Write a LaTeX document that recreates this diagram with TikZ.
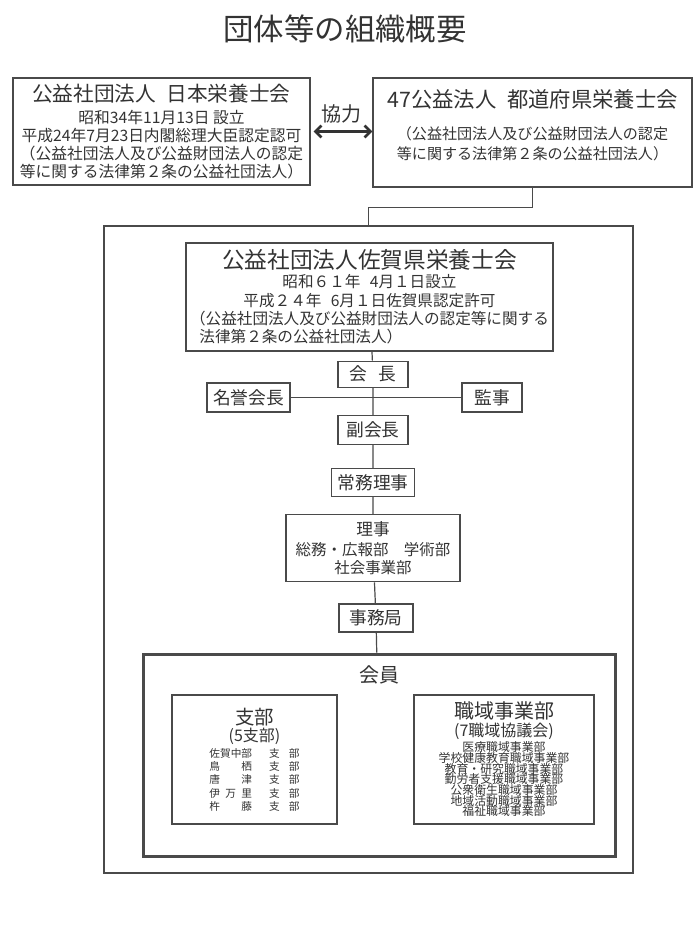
\documentclass[tikz,border=0pt]{standalone}
\usepackage{fontspec}
\setmainfont{Noto Sans CJK JP}
\usetikzlibrary{positioning,arrows.meta}

\newdimen\pxu \pxu=0.75pt
\definecolor{ink}{HTML}{333333}
\definecolor{rule}{HTML}{4A4A4A}
\newcommand\bxfont[2]{\fontsize{#1}{#2}\selectfont\lineskiplimit=-\maxdimen}
\newcommand\shibu[1]{\makebox[4em][s]{#1}\hspace{1.6em}支\hspace{0.85em}部}

\tikzset{
  >=Stealth,
  box/.style={draw=rule, line width=1.2\pxu, text=ink, align=center, inner sep=0pt},
  post/.style={box, minimum height=28\pxu, font=\bxfont{13.3}{16}},
  link/.style={draw=rule, line width=1.2\pxu},
  kyo/.style={{Straight Barb[length=4.5pt,width=9pt]}-{Straight Barb[length=4.5pt,width=9pt]}},
}

\begin{document}
\begin{tikzpicture}[x=0.75pt, y=-0.75pt]
\useasboundingbox (0,0) rectangle (700,933);

% Title
\node[font=\bxfont{22.8}{26}, text=ink] (title) at (345,29) {団体等の組織概要};

% National level
\node[box, minimum width=297\pxu, minimum height=107\pxu, font=\bxfont{11.8}{13.4}] (jda) at (161.5,131.5)
  {{\fontsize{15.5}{18}\selectfont 公益社団法人\hspace{0.5em}日本栄養士会}\\[3pt]
   昭和34年11月13日 設立\\
   平成24年7月23日内閣総理大臣認定認可\\
   （公益社団法人及び公益財団法人の認定\\
   等に関する法律第２条の公益社団法人）};
\node[box, minimum width=319\pxu, minimum height=109\pxu, font=\bxfont{11.3}{15}] (pref) at (532.5,132.5)
  {{\fontsize{16}{19}\selectfont 47公益法人\hspace{0.5em}都道府県栄養士会}\\[9.45pt]
   （公益社団法人及び公益財団法人の認定\\
   等に関する法律第２条の公益社団法人）\\[-3pt]\mbox{}};

\draw[kyo, draw=ink, line width=2.6\pxu, shorten <=3\pxu] (jda.east) -- (jda.east -| pref.west)
  node[midway, above=7\pxu, inner sep=0pt, font=\bxfont{15}{18}, text=ink] (kyoryoku) {協力};

% Saga
\node[draw=rule, line width=1.2\pxu, minimum width=529\pxu, minimum height=647\pxu, inner sep=0pt] (outer) at (368.5,549.5) {};
\draw[link] (pref.south) -- ++(0,20) -| (outer.north);

\node[box, minimum width=367\pxu, minimum height=108\pxu, font=\bxfont{11.7}{13.8}] (saga) at (369.5,297)
  {{\fontsize{17}{20}\selectfont 公益社団法人佐賀県栄養士会}\\[0.5pt]
   昭和６１年\hspace{0.6em}4月１日設立\\
   平成２４年\hspace{0.6em}6月１日佐賀県認定許可\\
   （公益社団法人及び公益財団法人の認定等に関する\\
   \makebox[23em][l]{\hspace{0.6em}法律第２条の公益社団法人）}};

% Officers
\node[post, minimum width=70\pxu, minimum height=26\pxu, below=9\pxu of saga, xshift=3.5\pxu] (kaicho) {会\hspace{0.6em}長};
\node[post, minimum width=70\pxu, minimum height=29\pxu, below=27\pxu of kaicho] (fuku) {副会長};
\node[post, minimum width=83\pxu, below=23\pxu of fuku] (jomu) {常務理事};
\node[box, minimum width=174\pxu, minimum height=67\pxu, below=17\pxu of jomu, font=\bxfont{11.6}{13.8}] (riji)
  {{\fontsize{12.5}{15}\selectfont 理事}\\[1.2pt]
   総務・広報部　学術部\\
   社会事業部};
\node[post, minimum width=74\pxu, below=21\pxu of riji, xshift=3\pxu] (jimu) {事務局};

\node[post, minimum width=83\pxu, minimum height=29\pxu] (meiyo) at (248.5,397.5) {名誉会長};
\node[post, minimum width=60\pxu, minimum height=29\pxu] (kanji) at (492,397.5) {監事};

% Members
\node[draw=rule, line width=3\pxu, minimum width=472\pxu, minimum height=202\pxu, below=20\pxu of jimu, xshift=3\pxu] (kaiin) {};
\node[font=\bxfont{15}{18}, text=ink, inner sep=0pt, below=13\pxu of kaiin.north] (kaiintxt) {会員};

\node[box, minimum width=165\pxu, minimum height=129\pxu, font=\bxfont{8}{9.9}] (shibu) at (254.5,759.5)
  {{\fontsize{14.6}{17}\selectfont 支部}\\[3.35pt]
   {\fontsize{12}{14}\selectfont (5支部)}\\[1.9pt]
   \shibu{佐賀中部}\\
   \shibu{鳥\hfil 栖}\\
   \shibu{唐\hfil 津}\\
   \shibu{伊\hfil 万\hfil 里}\\
   \shibu{杵\hfil 藤}};
\node[box, minimum width=180\pxu, minimum height=129\pxu, font=\bxfont{8.9}{8}] (shokuiki) at (504,759.5)
  {{\fontsize{15}{18}\selectfont 職域事業部}\\[5.1pt]
   {\fontsize{12}{14}\selectfont (7職域協議会)}\\[3.6pt]
   医療職域事業部\\
   学校健康教育職域事業部\\
   教育・研究職域事業部\\
   勤労者支援職域事業部\\
   公衆衛生職域事業部\\
   地域活動職域事業部\\
   福祉職域事業部};

% Links
\draw[link] (meiyo) -- (kanji);
\draw[link] (saga) -- (kaicho) -- (fuku) -- (jomu) -- (riji) -- (jimu) -- (kaiin);

\end{tikzpicture}
\end{document}
